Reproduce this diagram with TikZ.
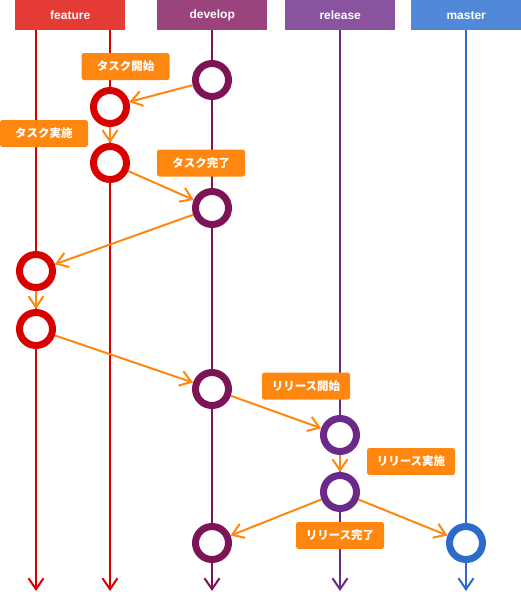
\documentclass[tikz,border=0pt]{standalone}
\usepackage{fontspec}
\setmainfont{Liberation Sans}
\newfontfamily\jp{Noto Sans CJK JP}
\usetikzlibrary{arrows.meta}
\definecolor{featH}{HTML}{E53B35}
\definecolor{devH}{HTML}{9B437C}
\definecolor{relH}{HTML}{8A53A0}
\definecolor{masH}{HTML}{5189D8}
\definecolor{featL}{HTML}{D90000}
\definecolor{devL}{HTML}{7D1458}
\definecolor{relL}{HTML}{6B2A8A}
\definecolor{masL}{HTML}{2C6BCB}
\definecolor{orng}{HTML}{FF870F}
\tikzset{
  header/.style={fill=#1, minimum height=30pt, inner sep=0pt, text=white, font=\fontsize{12}{14}\selectfont\bfseries, anchor=north west},
  branch/.style={draw=#1, line width=2pt, -{Straight Barb[length=11pt,width=15pt,line width=2pt]}},
  commit/.style={circle, draw=#1, fill=white, line width=7pt, minimum size=33pt, inner sep=0pt},
  label/.style={fill=orng, rounded corners=2.5pt, minimum width=88pt, minimum height=27pt, inner sep=0pt, text=white, font=\jp\fontsize{11.5}{13}\selectfont\bfseries},
  flow/.style={draw=orng, line width=2pt, -{Straight Barb[length=11pt,width=15pt,line width=2pt]}, shorten >=0pt}
}
\begin{document}
\begin{tikzpicture}[x=1pt,y=-1pt]
\useasboundingbox (0,0) rectangle (521,592);
% lines
\coordinate (fa0) at (36,30);  \coordinate (fa1) at (36,591);
\coordinate (fb0) at (110,30); \coordinate (fb1) at (110,591);
\coordinate (d0) at (212,30);  \coordinate (d1) at (212,591);
\coordinate (r0) at (340,30);  \coordinate (r1) at (340,591);
\coordinate (m0) at (466,30);  \coordinate (m1) at (466,591);
\draw[branch=featL] (fa0) -- (fa1);
\draw[branch=featL] (fb0) -- (fb1);
\draw[branch=devL] (d0) -- (d1);
\draw[branch=relL] (r0) -- (r1);
\draw[branch=masL] (m0) -- (m1);
% headers
\node[header=featH, minimum width=110pt] (hf) at (15,0) {feature};
\node[header=devH, minimum width=110pt] (hd) at (157,0) {develop};
\node[header=relH, minimum width=110pt] (hr) at (285,0) {release};
\node[header=masH, minimum width=110pt] (hm) at (411,0) {master};
% labels
\node[label] (l1) at (125.5,66.5) {タスク開始};
\node[label] (l2) at (44,133.5) {タスク実施};
\node[label] (l3) at (201,163) {タスク完了};
\node[label] (l4) at (306,386) {リリース開始};
\node[label] (l5) at (411,461.5) {リリース実施};
\node[label] (l6) at (340,535.5) {リリース完了};
% commits
\node[commit=devL] (c1) at (212,80) {};
\node[commit=featL] (c2) at (110,107) {};
\node[commit=featL] (c3) at (110,163) {};
\node[commit=devL] (c4) at (212,208) {};
\node[commit=featL] (c5) at (36,271) {};
\node[commit=featL] (c6) at (36,329) {};
\node[commit=devL] (c7) at (212,389) {};
\node[commit=relL] (c8) at (340,435) {};
\node[commit=relL] (c9) at (340,492) {};
\node[commit=devL] (c10) at (212,543) {};
\node[commit=masL] (c11) at (466,543) {};
% flows
\draw[flow] (c1) -- (c2);
\draw[flow] (c2) -- (c3);
\draw[flow] (c3) -- (c4);
\draw[flow] (c4) -- (c5);
\draw[flow] (c5) -- (c6);
\draw[flow] (c6) -- (c7);
\draw[flow] (c7) -- (c8);
\draw[flow] (c8) -- (c9);
\draw[flow] (c9) -- (c10);
\draw[flow] (c9) -- (c11);
\end{tikzpicture}
\end{document}
